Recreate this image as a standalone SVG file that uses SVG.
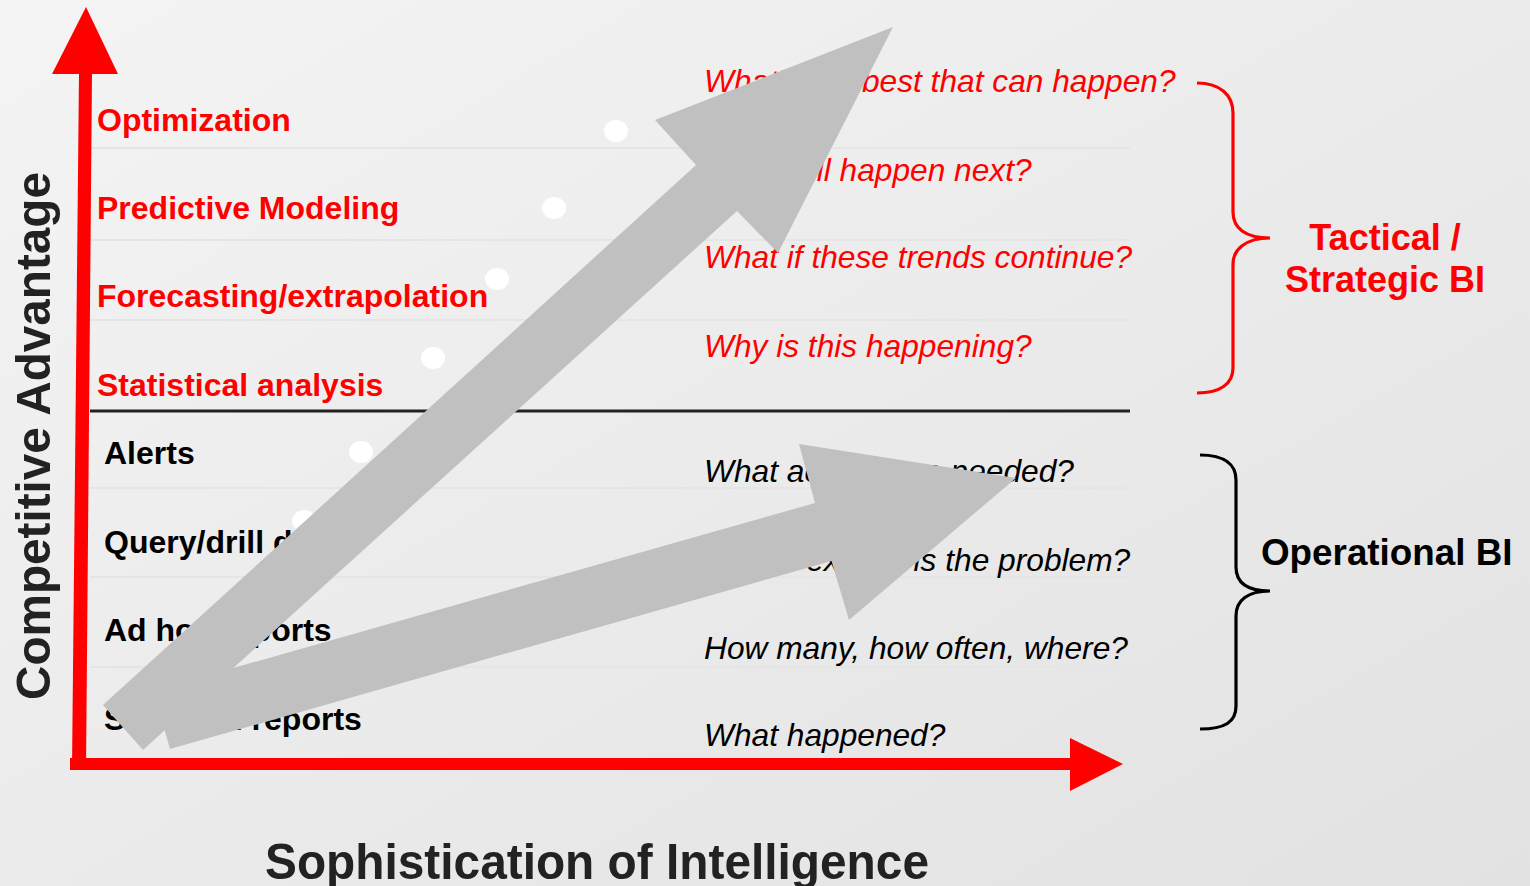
<svg xmlns="http://www.w3.org/2000/svg" width="1530" height="886" viewBox="0 0 1530 886">
  <defs>
    <linearGradient id="bg" x1="0" y1="0" x2="1" y2="1">
      <stop offset="0" stop-color="#f4f4f4"/>
      <stop offset="1" stop-color="#e2e2e2"/>
    </linearGradient>
    <style>
      .lbl { font-family: "Liberation Sans", Arial, sans-serif; font-weight: bold; font-size: 32px; }
      .big { font-family: "Liberation Sans", Arial, sans-serif; font-weight: bold; font-size: 36px; }
      .op { font-size: 36.8px; }
      .q { font-family: "Liberation Sans", Arial, sans-serif; font-style: italic; font-size: 31.7px; }
      .red { fill: #ff0000; }
      .blk { fill: #000000; }
      .row { stroke: #e5e5e5; stroke-width: 2; }
      .dot { fill: #ffffff; }
      .gray { fill: #c0c0c0; }
      .axis { fill: #ff0000; }
      .title { font-family: "Liberation Sans", Arial, sans-serif; font-weight: bold; fill: #222222; }
    </style>
  </defs>

  <rect x="0" y="0" width="1530" height="886" fill="url(#bg)"/>

  <g id="rows">
    <line class="row" x1="90" y1="148" x2="1130" y2="148"/>
    <line class="row" x1="90" y1="240" x2="1130" y2="240"/>
    <line class="row" x1="90" y1="320" x2="1130" y2="320"/>
    <line class="row" x1="90" y1="488" x2="1130" y2="488"/>
    <line class="row" x1="90" y1="577" x2="1130" y2="577"/>
    <line class="row" x1="90" y1="667" x2="1130" y2="667"/>
    <line x1="90" y1="411" x2="1130" y2="411" stroke="#222222" stroke-width="3"/>
  </g>

  <g id="levels-strategic">
    <text class="lbl red" x="97" y="131">Optimization</text>
    <text class="lbl red" x="97" y="219">Predictive Modeling</text>
    <text class="lbl red" x="97" y="307">Forecasting/extrapolation</text>
    <text class="lbl red" x="97" y="396">Statistical analysis</text>
  </g>
  <g id="levels-operational">
    <text class="lbl blk" x="104" y="464">Alerts</text>
    <text class="lbl blk" x="104" y="553">Query/drill down</text>
    <text class="lbl blk" x="104" y="641">Ad hoc reports</text>
    <text class="lbl blk" x="104" y="730">Standard reports</text>
  </g>

  <g id="questions-strategic">
    <text class="q red" x="704" y="92">What’s the best that can happen?</text>
    <text class="q red" x="704" y="181">What will happen next?</text>
    <text class="q red" x="704" y="268">What if these trends continue?</text>
    <text class="q red" x="704" y="357">Why is this happening?</text>
  </g>
  <g id="questions-operational">
    <text class="q blk" x="704" y="482">What actions are needed?</text>
    <text class="q blk" x="704" y="571">Where exactly is the problem?</text>
    <text class="q blk" x="704" y="659">How many, how often, where?</text>
    <text class="q blk" x="704" y="746">What happened?</text>
  </g>

  <g id="dots">
    <ellipse class="dot" cx="616" cy="131" rx="12" ry="11"/>
    <ellipse class="dot" cx="554" cy="208" rx="12" ry="11"/>
    <ellipse class="dot" cx="497" cy="279" rx="12" ry="11"/>
    <ellipse class="dot" cx="433" cy="358" rx="12" ry="11"/>
    <ellipse class="dot" cx="361" cy="452" rx="12" ry="11"/>
    <ellipse class="dot" cx="304" cy="521" rx="12" ry="11"/>
  </g>

  <g id="connectors">
    <polygon id="arrow-strategic" class="gray" points="103,705 696,165 655,120 893,27 778,253 737,211 143,750"/>
    <polygon id="arrow-operational" class="gray" points="153.5,690.7 815,503 799,444 1016,478 849,620 831.5,561 170,749"/>
  </g>

  <g id="axes">
    <polygon class="axis" points="79,73 92,73 86,770 72,770"/>
    <polygon class="axis" points="52,74 86,7 118,74"/>
    <polygon class="axis" points="70,758 1071,758 1071,770 70,770"/>
    <polygon class="axis" points="1070,738 1123,764 1070,791"/>
  </g>

  <g id="brace-tactical">
    <path d="M1197,83 C1220,83 1233,95 1233,113 L1233,212 C1233,228 1245,238 1270,238 C1245,238 1233,250 1233,264 L1233,368 C1233,384 1220,393 1197,393" fill="none" stroke="#ff0000" stroke-width="3.2"/>
    <text class="big red" x="1385" y="250" text-anchor="middle">Tactical /</text>
    <text class="big red" x="1385" y="292" text-anchor="middle">Strategic BI</text>
  </g>
  <g id="brace-operational">
    <path d="M1200,455 C1225,455 1236,465 1236,480 L1236,567 C1236,583 1248,591 1270,591 C1248,591 1236,600 1236,616 L1236,706 C1236,722 1225,729 1200,729" fill="none" stroke="#000000" stroke-width="3.2"/>
    <text class="big op blk" x="1261" y="565">Operational BI</text>
  </g>

  <g id="axis-titles">
    <text class="title" transform="translate(50,700) rotate(-90)" font-size="49" textLength="528" lengthAdjust="spacingAndGlyphs">Competitive Advantage</text>
    <text class="title" x="265" y="879" font-size="50" textLength="664" lengthAdjust="spacingAndGlyphs">Sophistication of Intelligence</text>
  </g>
</svg>
